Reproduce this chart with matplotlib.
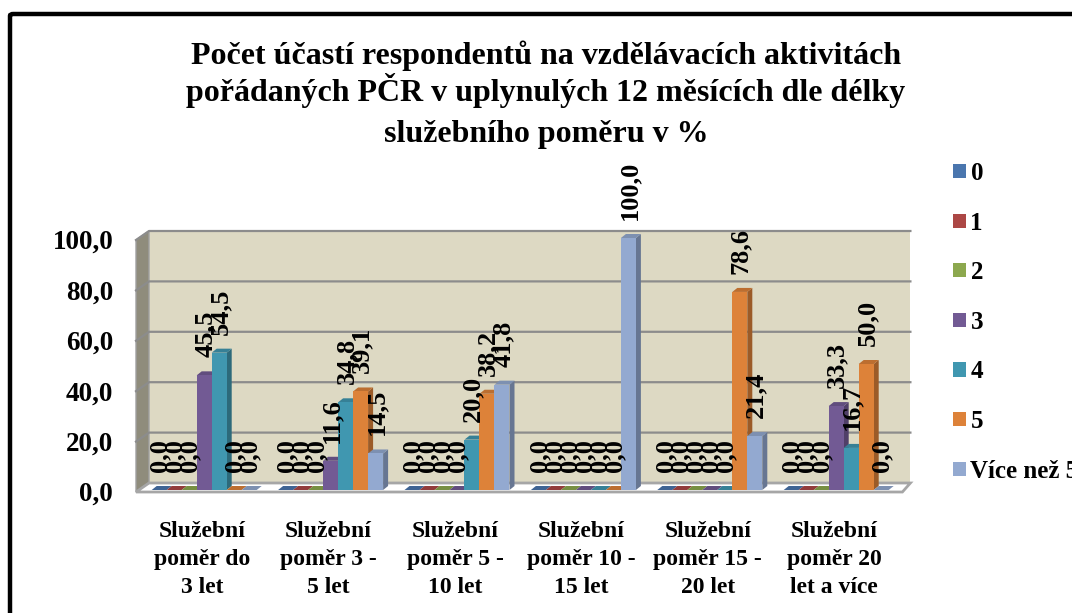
import matplotlib
matplotlib.use('Agg')
import matplotlib.pyplot as plt
from matplotlib.patches import Polygon, Rectangle, FancyBboxPatch
from matplotlib.transforms import ScaledTranslation
import numpy as np

plt.rcParams['font.family'] = ['Liberation Serif', 'DejaVu Serif']
plt.rcParams['font.weight'] = 'bold'

title_lines = ['Počet účastí respondentů na vzdělávacích aktivitách',
               'pořádaných PČR v uplynulých 12 měsících dle délky',
               'služebního poměru v %']
categories = ['Služební\npoměr do\n3 let', 'Služební\npoměr 3 -\n5 let', 'Služební\npoměr 5 -\n10 let',
              'Služební\npoměr 10 -\n15 let', 'Služební\npoměr 15 -\n20 let', 'Služební\npoměr 20\nlet a více']
series_names = ['0', '1', '2', '3', '4', '5', 'Více než 5']
s0 = [0.0, 0.0, 0.0, 0.0, 0.0, 0.0]
s1 = [0.0, 0.0, 0.0, 0.0, 0.0, 0.0]
s2 = [0.0, 0.0, 0.0, 0.0, 0.0, 0.0]
s3 = [45.5, 11.6, 0.0, 0.0, 0.0, 33.3]
s4 = [54.5, 34.8, 20.0, 0.0, 0.0, 16.7]
s5 = [0.0, 39.1, 38.2, 0.0, 78.6, 50.0]
s6 = [0.0, 14.5, 41.8, 100.0, 21.4, 0.0]
series = [s0, s1, s2, s3, s4, s5, s6]
colors = ['#4A76AE', '#AC4745', '#8CA84E', '#725A94', '#4097B0', '#DD8239', '#93A9D0']
yticks = [0, 20, 40, 60, 80, 100]

W, H = 1072, 613
fig = plt.figure(figsize=(W / 100, H / 100), dpi=100)

# axes box in pixels: 0 at y=490, 100 at y=238
left, right, bottom, top = 141, 899.4, 490, 238
ax = fig.add_axes([left / W, 1 - bottom / H, (right - left) / W, (bottom - top) / H])
ax.set_xlim(-0.5, 5.5)
ax.set_ylim(0, 100)
px_x = 6 / (right - left)
px_y = 100 / (bottom - top)
for s in ax.spines.values():
    s.set_visible(False)

# walls and floor
x0 = -0.5
x1 = 5.5 + 3 * px_x
back_dx, back_dy = 8 * px_x, 7 * px_y
front_dx, front_dy = -5 * px_x, -2 * px_y
ax.add_patch(Rectangle((x0 + back_dx, back_dy), x1 - x0, 100, fc='#DDD9C3', ec='none', zorder=1, clip_on=False))
ax.add_patch(Polygon([(x0 + front_dx, front_dy), (x0 + back_dx, back_dy), (x0 + back_dx, 100 + back_dy), (x0 + front_dx, 100 + front_dy)],
                     fc='#8F8C7C', ec='#A0A0A0', lw=1, zorder=2, clip_on=False))
ax.add_patch(Polygon([(x0 + front_dx, front_dy), (x1 + front_dx + 5 * px_x, front_dy), (x1 + back_dx, back_dy), (x0 + back_dx, back_dy)],
                     fc='white', ec='#A6A6A6', lw=2, zorder=2, clip_on=False))
for v in yticks[1:]:
    ax.plot([x0 + front_dx, x0 + back_dx, x1 + back_dx], [v + front_dy, v + back_dy, v + back_dy],
            color='#8C8C8C', lw=1.6, zorder=3, clip_on=False)

# bars
bar_w = 15 * px_x
depth_x, depth_y = 5 * px_x, 4 * px_y
n = len(series)
z = 5
for g in range(len(categories)):
    for i in range(n):
        v = series[i][g]
        xs = g + (i - (n - 1) / 2) * bar_w
        l, r = xs - bar_w / 2, xs + bar_w / 2
        c = np.array(matplotlib.colors.to_rgb(colors[i]))
        ax.add_patch(Polygon([(r, 0), (r + depth_x, depth_y), (r + depth_x, v + depth_y), (r, v)], fc=c * 0.7, ec='none', zorder=z, clip_on=False))
        ax.add_patch(Polygon([(l, v), (r, v), (r + depth_x, v + depth_y), (l + depth_x, v + depth_y)], fc=c * 0.85, ec='none', zorder=z, clip_on=False))
        ax.bar(xs, v, bar_w, color=colors[i], zorder=z + 1)
        z += 2
for g in range(len(categories)):
    for i in range(n):
        v = series[i][g]
        xs = g + (i - (n - 1) / 2) * bar_w
        ax.annotate(('%.1f' % v).replace('.', ','), (xs, v), xytext=(0.7, 13), textcoords='offset points',
                    rotation=90, ha='center', va='bottom', fontsize=19, fontweight='bold', zorder=500, annotation_clip=False)

ax.set_yticks(yticks)
ax.set_yticklabels([('%.1f' % v).replace('.', ',') for v in yticks], fontsize=19.5, fontweight='bold')
ax.set_xticks(np.arange(len(categories)) - 2 * px_x)
ax.set_xticklabels(categories, fontsize=17, fontweight='bold', linespacing=1.44)
ax.tick_params(axis='y', length=0, pad=20)
ax.tick_params(axis='x', length=0, pad=22)
# tick labels sit a little lower in the original
shift = ScaledTranslation(0, -1.5 / 100, fig.dpi_scale_trans)
for lab in ax.get_yticklabels():
    lab.set_transform(lab.get_transform() + shift)

for line, ypos in zip(title_lines, [64, 101, 142]):
    fig.text(546 / W, 1 - ypos / H, line, ha='center', va='baseline', fontsize=23, fontweight='bold')

handles = [Rectangle((0, 0), 1, 1, fc=c) for c in colors]
fig.legend(handles, series_names, loc='upper left', bbox_to_anchor=(943 / W, 1 - 152 / H), frameon=False,
           fontsize=18, handlelength=0.5, handleheight=0.5, handletextpad=0.2, labelspacing=1.065, borderpad=0, borderaxespad=0.4)

# outer black frame, runs off right and bottom
fig.add_artist(FancyBboxPatch((10 / W, -0.1), 1.2, 1.1 - 14 / H, boxstyle='round,pad=0,rounding_size=0.003',
                              transform=fig.transFigure, fc='none', ec='black', lw=3.2))
fig.savefig('out.png', dpi=100)
